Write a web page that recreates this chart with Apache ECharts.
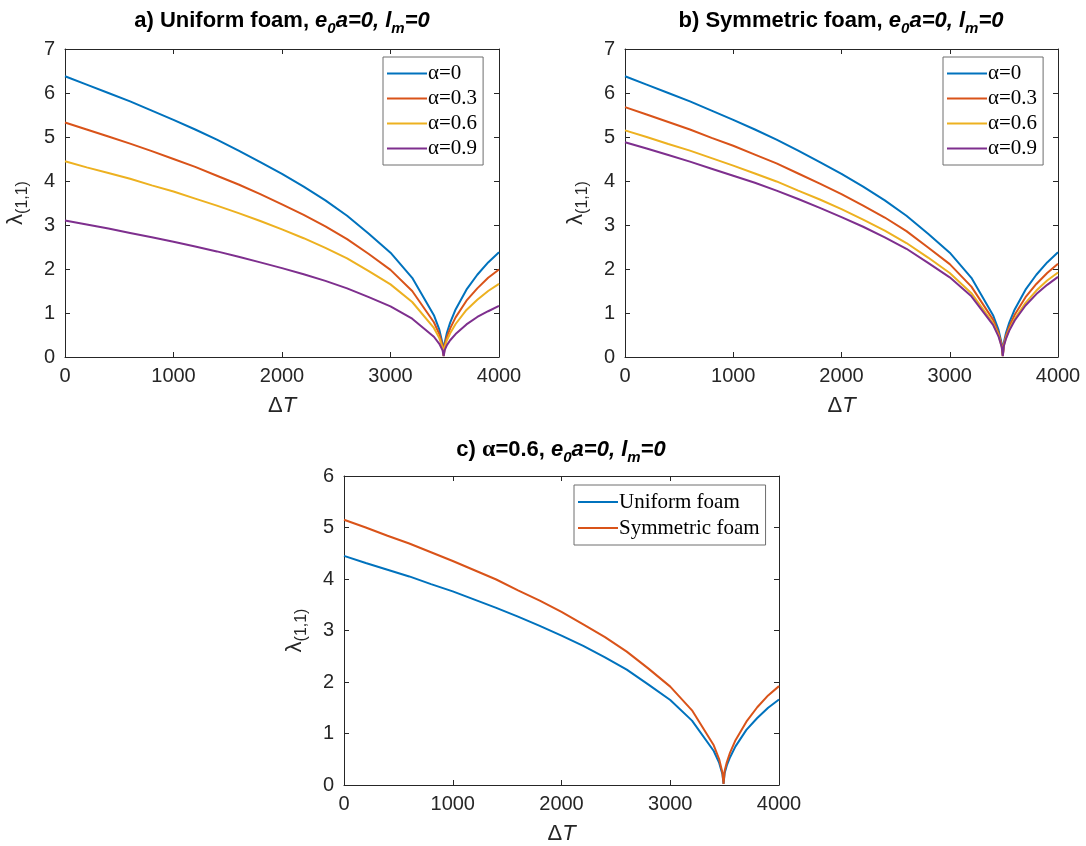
<!DOCTYPE html>
<html>
<head>
<meta charset="utf-8">
<title>lambda vs dT</title>
<script src="https://cdn.jsdelivr.net/npm/echarts@6/dist/echarts.min.js"></script>
<style>
  html, body { margin: 0; padding: 0; background: #fff; }
  #chart { width: 1086px; height: 846px; }
</style>
</head>
<body>
<div id="chart"></div>
<script>
// temperature rise values (x)
const deltaT = [0, 200, 400, 600, 800, 1000, 1200, 1400, 1600, 1800, 2000, 2200, 2400, 2600, 2800,
  3000, 3200, 3400, 3450, 3480, 3490, 3500, 3520, 3550, 3600, 3700, 3800, 3900, 4000]

// a) uniform foam
const uniA0 = [6.38, 6.19, 6.00, 5.81, 5.60, 5.39, 5.17, 4.94, 4.69, 4.43, 4.16, 3.87, 3.56, 3.21, 2.80,
  2.37, 1.80, 0.95, 0.62, 0.30, 0.03, 0.33, 0.55, 0.78, 1.08, 1.53, 1.87, 2.15, 2.38]
const uniA03 = [5.33, 5.17, 5.01, 4.85, 4.68, 4.50, 4.32, 4.12, 3.92, 3.70, 3.47, 3.23, 2.97, 2.68, 2.34,
  1.98, 1.50, 0.79, 0.52, 0.25, 0.03, 0.28, 0.46, 0.65, 0.90, 1.28, 1.56, 1.80, 1.99]
const uniA06 = [4.45, 4.31, 4.18, 4.05, 3.90, 3.76, 3.60, 3.44, 3.27, 3.09, 2.90, 2.70, 2.48, 2.24, 1.95,
  1.65, 1.25, 0.66, 0.43, 0.21, 0.02, 0.23, 0.38, 0.54, 0.75, 1.07, 1.30, 1.50, 1.66]
const uniA09 = [3.10, 3.01, 2.92, 2.82, 2.72, 2.62, 2.51, 2.40, 2.28, 2.15, 2.02, 1.88, 1.73, 1.56, 1.36,
  1.15, 0.87, 0.46, 0.30, 0.15, 0.02, 0.16, 0.27, 0.38, 0.52, 0.74, 0.91, 1.04, 1.16]

// b) symmetric foam
const symA0 = [6.38, 6.19, 6.00, 5.81, 5.60, 5.39, 5.17, 4.94, 4.69, 4.43, 4.16, 3.87, 3.56, 3.21, 2.80,
  2.37, 1.80, 0.95, 0.62, 0.30, 0.03, 0.33, 0.55, 0.78, 1.08, 1.53, 1.87, 2.15, 2.38]
const symA03 = [5.68, 5.51, 5.34, 5.17, 4.98, 4.80, 4.60, 4.40, 4.17, 3.94, 3.70, 3.44, 3.17, 2.86, 2.49,
  2.11, 1.60, 0.85, 0.55, 0.27, 0.03, 0.29, 0.49, 0.69, 0.96, 1.36, 1.66, 1.91, 2.12]
const symA06 = [5.15, 5.00, 4.84, 4.69, 4.52, 4.35, 4.17, 3.99, 3.78, 3.58, 3.36, 3.12, 2.87, 2.59, 2.26,
  1.91, 1.45, 0.77, 0.50, 0.24, 0.02, 0.27, 0.44, 0.63, 0.87, 1.23, 1.51, 1.74, 1.92]
const symA09 = [4.88, 4.74, 4.59, 4.44, 4.28, 4.12, 3.96, 3.78, 3.59, 3.39, 3.18, 2.96, 2.72, 2.46, 2.14,
  1.81, 1.38, 0.73, 0.47, 0.23, 0.02, 0.25, 0.42, 0.60, 0.83, 1.17, 1.43, 1.64, 1.82]

const alphaNames = ['α=0', 'α=0.3', 'α=0.6', 'α=0.9']
const foamNames = ['Uniform foam', 'Symmetric foam']
const xTicks = [0, 1000, 2000, 3000, 4000]
const colors = ['#0072BD', '#D95319', '#EDB120', '#7E2F8E']

const axisColor = '#262626'
const sans = 'Liberation Sans, Arial, Helvetica, sans-serif'
const serif = 'Liberation Serif, Times New Roman, serif'

function pairs(ys) {
  return deltaT.map((t, i) => [t, ys[i]])
}

const titleRich = {
  b: { fontFamily: sans, fontWeight: 'bold', fontSize: 22, lineHeight: 30, color: '#000' },
  i: { fontFamily: sans, fontWeight: 'bold', fontStyle: 'italic', fontSize: 22, lineHeight: 30, color: '#000' },
  s: { fontFamily: sans, fontWeight: 'bold', fontStyle: 'italic', fontSize: 15, lineHeight: 14, verticalAlign: 'bottom', color: '#000' },
  g: { fontFamily: serif, fontSize: 24, lineHeight: 30, color: '#000' }
}

const tickStyle = { show: true, inside: true, length: 5, lineStyle: { color: axisColor } }
const lineStyle = { show: true, onZero: false, lineStyle: { color: axisColor, width: 1 } }

function xAxes(gridIndex) {
  return [{
    gridIndex: gridIndex,
    type: 'value',
    min: xTicks[0],
    max: xTicks[xTicks.length - 1],
    interval: 1000,
    name: '{d|Δ}{t|T}',
    nameLocation: 'middle',
    nameGap: 38,
    nameTextStyle: {
      rich: {
        d: { fontFamily: sans, fontSize: 22, color: axisColor },
        t: { fontFamily: sans, fontSize: 22, fontStyle: 'italic', color: axisColor }
      }
    },
    axisLine: lineStyle,
    axisTick: tickStyle,
    axisLabel: { margin: 9, fontFamily: sans, fontSize: 20, color: axisColor, formatter: v => String(v) },
    splitLine: { show: false }
  }, {
    gridIndex: gridIndex,
    type: 'value',
    position: 'top',
    min: xTicks[0],
    max: xTicks[xTicks.length - 1],
    interval: 1000,
    axisLine: lineStyle,
    axisTick: tickStyle,
    axisLabel: { show: false },
    splitLine: { show: false }
  }]
}

function yAxes(gridIndex, max) {
  return [{
    gridIndex: gridIndex,
    type: 'value',
    min: 0,
    max: max,
    interval: 1,
    name: '{l|λ}{s|(1,1)}',
    nameLocation: 'middle',
    nameRotate: 90,
    nameGap: 34,
    nameTextStyle: {
      rich: {
        l: { fontFamily: sans, fontSize: 22, lineHeight: 30, color: axisColor },
        s: { fontFamily: sans, fontSize: 16, lineHeight: 16, verticalAlign: 'bottom', color: axisColor }
      }
    },
    axisLine: lineStyle,
    axisTick: tickStyle,
    axisLabel: { margin: 10, fontFamily: sans, fontSize: 20, color: axisColor },
    splitLine: { show: false }
  }, {
    gridIndex: gridIndex,
    type: 'value',
    position: 'right',
    min: 0,
    max: max,
    interval: 1,
    axisLine: lineStyle,
    axisTick: tickStyle,
    axisLabel: { show: false },
    splitLine: { show: false }
  }]
}

function line(name, ys, gridIndex, color) {
  return {
    name: name,
    type: 'line',
    xAxisIndex: gridIndex * 2,
    yAxisIndex: gridIndex * 2,
    data: pairs(ys),
    symbol: 'none',
    lineStyle: { color: color, width: 2 },
    itemStyle: { color: color },
    z: 3
  }
}

function legend(left, top, names, gap) {
  return {
    left: left,
    top: top,
    orient: 'vertical',
    data: names,
    icon: 'rect',
    itemWidth: 40,
    itemHeight: 2,
    itemGap: 0,
    padding: [4, 6, 4, 4],
    backgroundColor: '#fff',
    borderColor: '#6e6e6e',
    borderWidth: 1,
    borderRadius: 0,
    textStyle: { fontFamily: serif, fontSize: 21, color: '#000', lineHeight: gap, padding: [0, 0, 0, -4] }
  }
}

const chart = echarts.init(document.getElementById('chart'), null, { renderer: 'canvas' })

chart.setOption({
  animation: false,
  backgroundColor: '#fff',
  title: [{
    text: '{b|a) Uniform foam, }{i|e}{s|0}{i|a=0, l}{s|m}{i|=0}',
    left: 282, top: 6, padding: 0, textAlign: 'center',
    textStyle: { rich: titleRich }
  }, {
    text: '{b|b) Symmetric foam, }{i|e}{s|0}{i|a=0, l}{s|m}{i|=0}',
    left: 841, top: 6, padding: 0, textAlign: 'center',
    textStyle: { rich: titleRich }
  }, {
    text: '{b|c) }{g|α}{b|=0.6, }{i|e}{s|0}{i|a=0, l}{s|m}{i|=0}',
    left: 561, top: 435, padding: 0, textAlign: 'center',
    textStyle: { rich: titleRich }
  }],
  grid: [
    { left: 65, top: 49, width: 434, height: 308 },
    { left: 625, top: 49, width: 433, height: 308 },
    { left: 344, top: 476, width: 435, height: 309 }
  ],
  xAxis: [].concat(xAxes(0), xAxes(1), xAxes(2)),
  yAxis: [].concat(yAxes(0, 7), yAxes(1, 7), yAxes(2, 6)),
  legend: [
    legend(383, 57, alphaNames, 25),
    legend(943, 57, alphaNames, 25),
    legend(574, 485, foamNames, 26)
  ],
  series: [
    line(alphaNames[0], uniA0, 0, colors[0]),
    line(alphaNames[1], uniA03, 0, colors[1]),
    line(alphaNames[2], uniA06, 0, colors[2]),
    line(alphaNames[3], uniA09, 0, colors[3]),
    line(alphaNames[0], symA0, 1, colors[0]),
    line(alphaNames[1], symA03, 1, colors[1]),
    line(alphaNames[2], symA06, 1, colors[2]),
    line(alphaNames[3], symA09, 1, colors[3]),
    line(foamNames[0], uniA06, 2, colors[0]),
    line(foamNames[1], symA06, 2, colors[1])
  ]
})
</script>
</body>
</html>
